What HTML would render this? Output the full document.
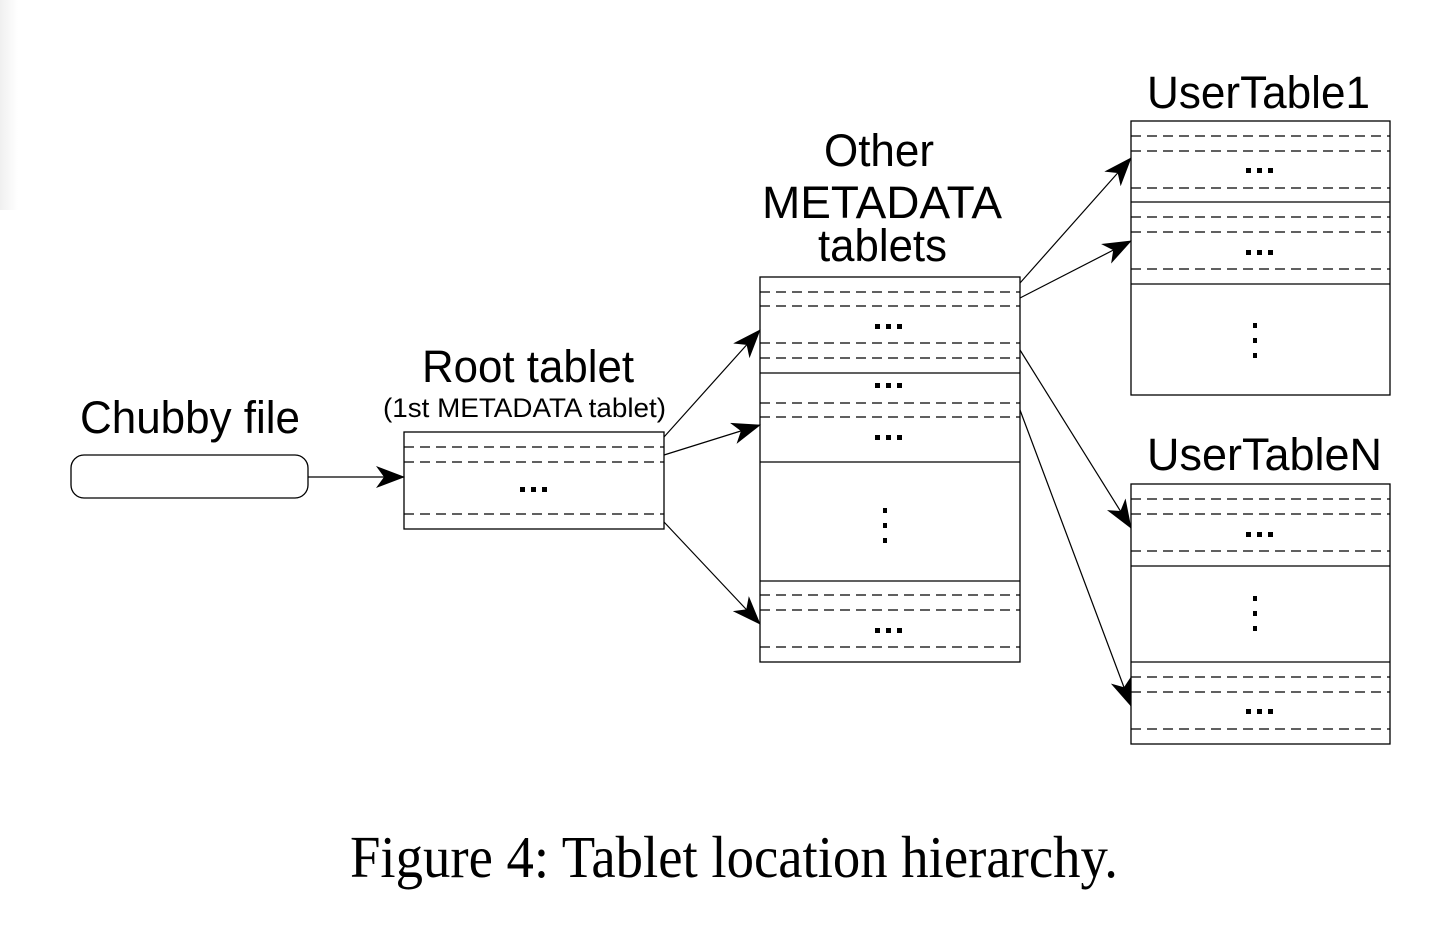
<!DOCTYPE html>
<html><head><meta charset="utf-8"><style>
html,body{margin:0;padding:0;background:#fff;}
svg{display:block;}
text{font-family:"Liberation Sans",sans-serif;fill:#000;}
</style></head><body>
<svg width="1438" height="944" viewBox="0 0 1438 944" xmlns="http://www.w3.org/2000/svg">
<defs>
<linearGradient id="lg" x1="0" x2="1" y1="0" y2="0"><stop offset="0" stop-color="#f0f0f0"/><stop offset="1" stop-color="#fff"/></linearGradient>
<marker id="ah" markerWidth="30" markerHeight="22" refX="28" refY="11" orient="auto" markerUnits="userSpaceOnUse">
<path d="M0,0 L29,11 L0,22 L8,11 z" fill="#000"/></marker>
<g id="hd" fill="#000"><rect x="0" y="0" width="5" height="5"/><rect x="11" y="0" width="5" height="5"/><rect x="22" y="0" width="5" height="5"/></g>
<g id="vd" fill="#000"><rect x="0" y="0" width="4" height="5"/><rect x="0" y="15" width="4" height="5"/><rect x="0" y="30" width="4" height="5"/></g>
</defs>
<rect x="0" y="0" width="18" height="210" fill="url(#lg)"/>
<g stroke="#000" stroke-width="1.3" fill="none">
<rect x="71" y="455" width="237" height="43" rx="13" ry="13"/>
<rect x="404" y="432" width="260" height="97"/>
<rect x="760" y="277" width="260" height="385"/>
<line x1="760" y1="373" x2="1020" y2="373"/>
<line x1="760" y1="462" x2="1020" y2="462"/>
<line x1="760" y1="581" x2="1020" y2="581"/>
<rect x="1131" y="121" width="259" height="274"/>
<line x1="1131" y1="202" x2="1390" y2="202"/>
<line x1="1131" y1="284" x2="1390" y2="284"/>
<rect x="1131" y="484" width="259" height="260"/>
<line x1="1131" y1="566" x2="1390" y2="566"/>
<line x1="1131" y1="662" x2="1390" y2="662"/>
</g>
<g stroke="#000" stroke-width="1.2" stroke-dasharray="10,6">
<line x1="404" y1="447" x2="664" y2="447"/>
<line x1="404" y1="462" x2="664" y2="462"/>
<line x1="404" y1="514" x2="664" y2="514"/>
<line x1="760" y1="292" x2="1020" y2="292"/>
<line x1="760" y1="306" x2="1020" y2="306"/>
<line x1="760" y1="343" x2="1020" y2="343"/>
<line x1="760" y1="358" x2="1020" y2="358"/>
<line x1="760" y1="403" x2="1020" y2="403"/>
<line x1="760" y1="417" x2="1020" y2="417"/>
<line x1="760" y1="595" x2="1020" y2="595"/>
<line x1="760" y1="610" x2="1020" y2="610"/>
<line x1="760" y1="647" x2="1020" y2="647"/>
<line x1="1131" y1="136" x2="1390" y2="136"/>
<line x1="1131" y1="151" x2="1390" y2="151"/>
<line x1="1131" y1="188" x2="1390" y2="188"/>
<line x1="1131" y1="217" x2="1390" y2="217"/>
<line x1="1131" y1="232" x2="1390" y2="232"/>
<line x1="1131" y1="269" x2="1390" y2="269"/>
<line x1="1131" y1="499" x2="1390" y2="499"/>
<line x1="1131" y1="514" x2="1390" y2="514"/>
<line x1="1131" y1="551" x2="1390" y2="551"/>
<line x1="1131" y1="677" x2="1390" y2="677"/>
<line x1="1131" y1="692" x2="1390" y2="692"/>
<line x1="1131" y1="729" x2="1390" y2="729"/>
</g>
<g stroke="#000" stroke-width="1.2" fill="none" marker-end="url(#ah)">
<line x1="308" y1="477" x2="404" y2="477"/>
<line x1="664" y1="437" x2="760" y2="330"/>
<line x1="664" y1="455" x2="760" y2="425"/>
<line x1="664" y1="522" x2="760" y2="624"/>
<line x1="1020" y1="283" x2="1131" y2="158"/>
<line x1="1020" y1="298" x2="1131" y2="241"/>
<line x1="1020" y1="350" x2="1131" y2="528"/>
<line x1="1020" y1="410" x2="1131" y2="706"/>
</g>
<use href="#hd" x="520" y="487"/>
<use href="#hd" x="875" y="324"/>
<use href="#hd" x="875" y="383"/>
<use href="#hd" x="875" y="435"/>
<use href="#hd" x="875" y="628"/>
<use href="#hd" x="1246" y="168"/>
<use href="#hd" x="1246" y="250"/>
<use href="#hd" x="1246" y="532"/>
<use href="#hd" x="1246" y="709"/>
<use href="#vd" x="883" y="508"/>
<use href="#vd" x="1253" y="323"/>
<use href="#vd" x="1253" y="596"/>
<text x="80" y="433" font-size="45" textLength="220" lengthAdjust="spacingAndGlyphs">Chubby file</text>
<text x="422" y="382" font-size="45" textLength="212" lengthAdjust="spacingAndGlyphs">Root tablet</text>
<text x="383" y="417" font-size="27" textLength="283" lengthAdjust="spacingAndGlyphs">(1st METADATA tablet)</text>
<text x="824" y="166" font-size="45" textLength="110" lengthAdjust="spacingAndGlyphs">Other</text>
<text x="762" y="218" font-size="45" textLength="240" lengthAdjust="spacingAndGlyphs">METADATA</text>
<text x="818" y="261" font-size="45" textLength="129" lengthAdjust="spacingAndGlyphs">tablets</text>
<text x="1147" y="108" font-size="45" textLength="223" lengthAdjust="spacingAndGlyphs">UserTable1</text>
<text x="1147" y="470" font-size="45" textLength="235" lengthAdjust="spacingAndGlyphs">UserTableN</text>
<text x="350" y="877" font-size="59" textLength="768" lengthAdjust="spacingAndGlyphs" style="font-family:'Liberation Serif',serif">Figure 4: Tablet location hierarchy.</text>
</svg>
</body></html>
